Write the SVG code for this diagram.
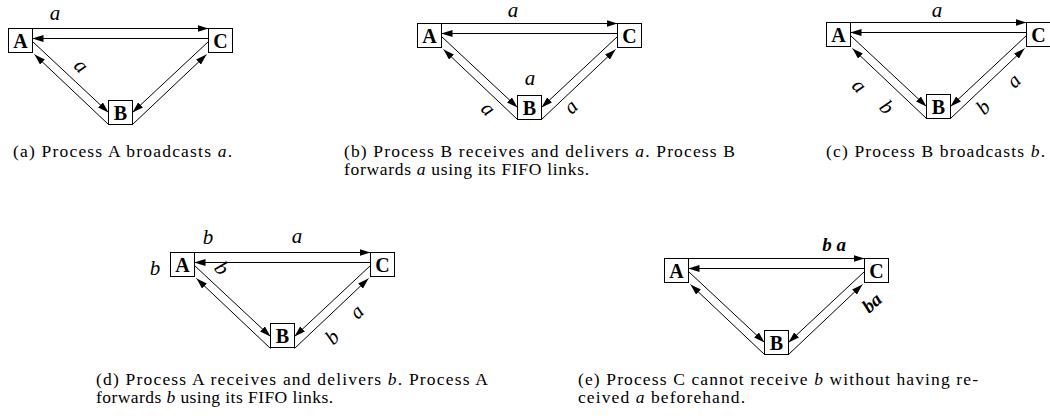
<svg xmlns="http://www.w3.org/2000/svg" width="1050" height="419" viewBox="0 0 1050 419">
  <style>
    .box { fill: #fff; stroke: #000; stroke-width: 1; }
    .lk { fill: none; stroke: #000; stroke-width: 1; marker-end: url(#ah); }
    .nl { font-family: "Liberation Serif", serif; font-weight: bold; font-size: 20px; text-anchor: middle; }
    .lb { font-family: "Liberation Serif", serif; font-style: italic; font-size: 21px; text-anchor: middle; }
    .lbb { font-family: "Liberation Serif", serif; font-style: italic; font-weight: bold; font-size: 19px; text-anchor: middle; }
    .cap { font-family: "Liberation Serif", serif; font-size: 17.5px; }
    .m { font-style: italic; }
  </style>
  <defs>
    <marker id="ah" viewBox="0 0 11 7" refX="11" refY="3.5" markerWidth="11" markerHeight="7" markerUnits="userSpaceOnUse" orient="auto">
      <path d="M0,0 L11,3.5 L0,7 z" fill="#000"/>
    </marker>
  </defs>

  <!-- (a) -->
  <g id="fig-a">
    <g transform="translate(8.5,28.5)">
      <g id="fig-a-links">
        <line class="lk" x1="24" y1="0" x2="200" y2="0"/>
        <line class="lk" x1="200" y1="10" x2="24" y2="10"/>
        <line class="lk" x1="24" y1="13" x2="100" y2="84"/>
        <line class="lk" x1="100" y1="96" x2="26" y2="26"/>
        <line class="lk" x1="200" y1="13" x2="124" y2="84"/>
        <line class="lk" x1="124" y1="96" x2="198" y2="26"/>
      </g>
      <g id="fig-a-A"><rect class="box" x="0" y="0" width="24" height="24"/><text class="nl" x="12" y="19">A</text></g>
      <g id="fig-a-B"><rect class="box" x="100" y="72" width="24" height="24"/><text class="nl" x="112" y="91">B</text></g>
      <g id="fig-a-C"><rect class="box" x="200" y="0" width="24" height="24"/><text class="nl" x="212" y="19">C</text></g>
    </g>
    <g id="fig-a-labels">
      <text class="lb" x="55" y="20">a</text>
      <text class="lb" transform="translate(80,67) rotate(45)" y="5">a</text>
    </g>
    <text class="cap" x="13" y="157" textLength="219" lengthAdjust="spacing">(a) Process A broadcasts <tspan class="m">a</tspan>.</text>
  </g>

  <!-- (b) -->
  <g id="fig-b">
    <g transform="translate(417.5,23.5)">
      <g id="fig-b-links">
        <line class="lk" x1="24" y1="0" x2="200" y2="0"/>
        <line class="lk" x1="200" y1="10" x2="24" y2="10"/>
        <line class="lk" x1="24" y1="13" x2="100" y2="84"/>
        <line class="lk" x1="100" y1="96" x2="26" y2="26"/>
        <line class="lk" x1="200" y1="13" x2="124" y2="84"/>
        <line class="lk" x1="124" y1="96" x2="198" y2="26"/>
      </g>
      <g id="fig-b-A"><rect class="box" x="0" y="0" width="24" height="24"/><text class="nl" x="12" y="19">A</text></g>
      <g id="fig-b-B"><rect class="box" x="100" y="72" width="24" height="24"/><text class="nl" x="112" y="91">B</text></g>
      <g id="fig-b-C"><rect class="box" x="200" y="0" width="24" height="24"/><text class="nl" x="212" y="19">C</text></g>
    </g>
    <g id="fig-b-labels">
      <text class="lb" x="513" y="17" font-size="19">a</text>
      <text class="lb" x="530" y="85">a</text>
      <text class="lb" transform="translate(487,110) rotate(45)" y="5">a</text>
      <text class="lb" transform="translate(572,108) rotate(-45)" y="5">a</text>
    </g>
    <text class="cap" x="344" y="157" textLength="391" lengthAdjust="spacing">(b) Process B receives and delivers <tspan class="m">a</tspan>.  Process B</text>
    <text class="cap" x="344" y="175" textLength="245" lengthAdjust="spacing">forwards <tspan class="m">a</tspan> using its FIFO links.</text>
  </g>

  <!-- (c) -->
  <g id="fig-c">
    <g transform="translate(826.5,22.5)">
      <g id="fig-c-links">
        <line class="lk" x1="24" y1="0" x2="200" y2="0"/>
        <line class="lk" x1="200" y1="10" x2="24" y2="10"/>
        <line class="lk" x1="24" y1="13" x2="100" y2="84"/>
        <line class="lk" x1="100" y1="96" x2="26" y2="26"/>
        <line class="lk" x1="200" y1="13" x2="124" y2="84"/>
        <line class="lk" x1="124" y1="96" x2="198" y2="26"/>
      </g>
      <g id="fig-c-A"><rect class="box" x="0" y="0" width="24" height="24"/><text class="nl" x="12" y="19">A</text></g>
      <g id="fig-c-B"><rect class="box" x="100" y="72" width="24" height="24"/><text class="nl" x="112" y="91">B</text></g>
      <g id="fig-c-C"><rect class="box" x="200" y="0" width="24" height="24"/><text class="nl" x="212" y="19">C</text></g>
    </g>
    <g id="fig-c-labels">
      <text class="lb" x="937" y="17" font-size="19">a</text>
      <text class="lb" transform="translate(858,87) rotate(45)" y="5">a</text>
      <text class="lb" transform="translate(887,107) rotate(45)" y="7">b</text>
      <text class="lb" transform="translate(983,107) rotate(-45)" y="7">b</text>
      <text class="lb" transform="translate(1015,82) rotate(-45)" y="5">a</text>
    </g>
    <text class="cap" x="826" y="157" textLength="219" lengthAdjust="spacing">(c) Process B broadcasts <tspan class="m">b</tspan>.</text>
  </g>

  <!-- (d) -->
  <g id="fig-d">
    <g transform="translate(170.5,252.5)">
      <g id="fig-d-links">
        <line class="lk" x1="24" y1="0" x2="200" y2="0"/>
        <line class="lk" x1="200" y1="10" x2="24" y2="10"/>
        <line class="lk" x1="24" y1="13" x2="100" y2="84"/>
        <line class="lk" x1="100" y1="96" x2="26" y2="26"/>
        <line class="lk" x1="200" y1="13" x2="124" y2="84"/>
        <line class="lk" x1="124" y1="96" x2="198" y2="26"/>
      </g>
      <g id="fig-d-A"><rect class="box" x="0" y="0" width="24" height="24"/><text class="nl" x="12" y="19">A</text></g>
      <g id="fig-d-B"><rect class="box" x="100" y="71" width="24" height="24"/><text class="nl" x="112" y="90">B</text></g>
      <g id="fig-d-C"><rect class="box" x="200" y="0" width="24" height="24"/><text class="nl" x="212" y="19">C</text></g>
    </g>
    <g id="fig-d-labels">
      <text class="lb" x="208" y="244">b</text>
      <text class="lb" x="297" y="243">a</text>
      <text class="lb" x="155" y="275">b</text>
      <text class="lb" transform="translate(222,268) rotate(50)" y="7">b</text>
      <text class="lb" transform="translate(358,313) rotate(-45)" y="5">a</text>
      <text class="lb" transform="translate(332,337) rotate(-45)" y="7">b</text>
    </g>
    <text class="cap" x="96" y="385" textLength="392" lengthAdjust="spacing">(d) Process A receives and delivers <tspan class="m">b</tspan>.  Process A</text>
    <text class="cap" x="96" y="403" textLength="237" lengthAdjust="spacing">forwards <tspan class="m">b</tspan> using its FIFO links.</text>
  </g>

  <!-- (e) -->
  <g id="fig-e">
    <g transform="translate(664.5,258.5)">
      <g id="fig-e-links">
        <line class="lk" x1="24" y1="0" x2="200" y2="0"/>
        <line class="lk" x1="200" y1="10" x2="24" y2="10"/>
        <line class="lk" x1="24" y1="13" x2="100" y2="84"/>
        <line class="lk" x1="100" y1="96" x2="26" y2="26"/>
        <line class="lk" x1="200" y1="13" x2="124" y2="84"/>
        <line class="lk" x1="124" y1="96" x2="198" y2="26"/>
      </g>
      <g id="fig-e-A"><rect class="box" x="0" y="0" width="24" height="24"/><text class="nl" x="12" y="19">A</text></g>
      <g id="fig-e-B"><rect class="box" x="100" y="72" width="24" height="24"/><text class="nl" x="112" y="91">B</text></g>
      <g id="fig-e-C"><rect class="box" x="200" y="0" width="24" height="24"/><text class="nl" x="212" y="19">C</text></g>
    </g>
    <g id="fig-e-labels">
      <text class="lbb" x="834" y="251">b a</text>
      <text class="lbb" transform="translate(872,303) rotate(-42)" y="6">ba</text>
    </g>
    <text class="cap" x="578" y="385" textLength="400" lengthAdjust="spacing">(e) Process C cannot receive <tspan class="m">b</tspan> without having re-</text>
    <text class="cap" x="578" y="403" textLength="167" lengthAdjust="spacing">ceived <tspan class="m">a</tspan> beforehand.</text>
  </g>
</svg>
